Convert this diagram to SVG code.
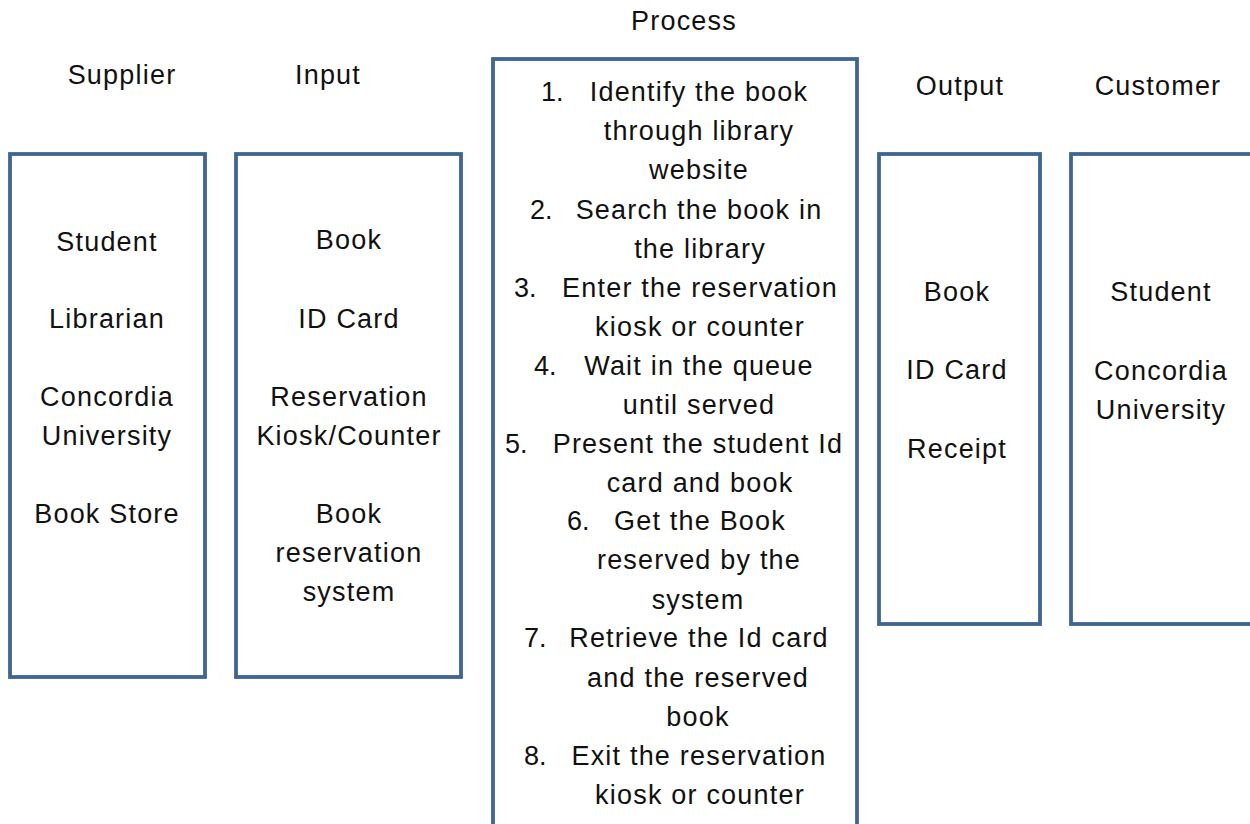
<svg xmlns="http://www.w3.org/2000/svg" width="1250" height="824" viewBox="0 0 1250 824">
<style>
.box{fill:#fff;stroke:#3f6593;stroke-width:3.8}
text{font-family:"Liberation Sans",Arial,sans-serif;font-size:27px;fill:#111;text-anchor:middle;letter-spacing:1.2px}
.n{text-anchor:start;letter-spacing:0}
</style>
<rect width="1250" height="824" fill="#fff"/>
<g id="headers">
<text x="122" y="84">Supplier</text>
<text x="328" y="84">Input</text>
<text x="684" y="30">Process</text>
<text x="960" y="95">Output</text>
<text x="1158" y="95">Customer</text>
</g>
<g id="supplier">
<rect class="box" x="10" y="154" width="195" height="523"/>
<text x="107" y="251">Student</text>
<text x="107" y="328">Librarian</text>
<text x="107" y="406">Concordia</text>
<text x="107" y="445">University</text>
<text x="107" y="523">Book Store</text>
</g>
<g id="input">
<rect class="box" x="236" y="154" width="225" height="523"/>
<text x="349" y="249">Book</text>
<text x="349" y="328">ID Card</text>
<text x="349" y="406">Reservation</text>
<text x="349" y="445">Kiosk/Counter</text>
<text x="349" y="523">Book</text>
<text x="349" y="562">reservation</text>
<text x="349" y="601">system</text>
</g>
<g id="process">
<rect class="box" x="493" y="59" width="364" height="780"/>
<text class="n" x="541" y="101">1.</text>
<text x="699" y="101">Identify the book</text>
<text x="699" y="140">through library</text>
<text x="699" y="179">website</text>
<text class="n" x="530" y="219">2.</text>
<text x="699" y="219">Search the book in</text>
<text x="700" y="258">the library</text>
<text class="n" x="514" y="297">3.</text>
<text x="700" y="297">Enter the reservation</text>
<text x="700" y="336">kiosk or counter</text>
<text class="n" x="534" y="375">4.</text>
<text x="699" y="375">Wait in the queue</text>
<text x="699" y="414">until served</text>
<text class="n" x="505" y="453">5.</text>
<text x="698" y="453">Present the student Id</text>
<text x="700" y="492">card and book</text>
<text class="n" x="567" y="530">6.</text>
<text x="700" y="530">Get the Book</text>
<text x="699" y="569">reserved by the</text>
<text x="698" y="609">system</text>
<text class="n" x="524" y="647">7.</text>
<text x="699" y="647">Retrieve the Id card</text>
<text x="698" y="687">and the reserved</text>
<text x="698" y="726">book</text>
<text class="n" x="524" y="765">8.</text>
<text x="699" y="765">Exit the reservation</text>
<text x="700" y="804">kiosk or counter</text>
</g>
<g id="output">
<rect class="box" x="879" y="154" width="161" height="470"/>
<text x="957" y="301">Book</text>
<text x="957" y="379">ID Card</text>
<text x="957" y="458">Receipt</text>
</g>
<g id="customer">
<rect class="box" x="1071" y="154" width="200" height="470"/>
<text x="1161" y="301">Student</text>
<text x="1161" y="380">Concordia</text>
<text x="1161" y="419">University</text>
</g>
<g id="connectors"></g>
</svg>
